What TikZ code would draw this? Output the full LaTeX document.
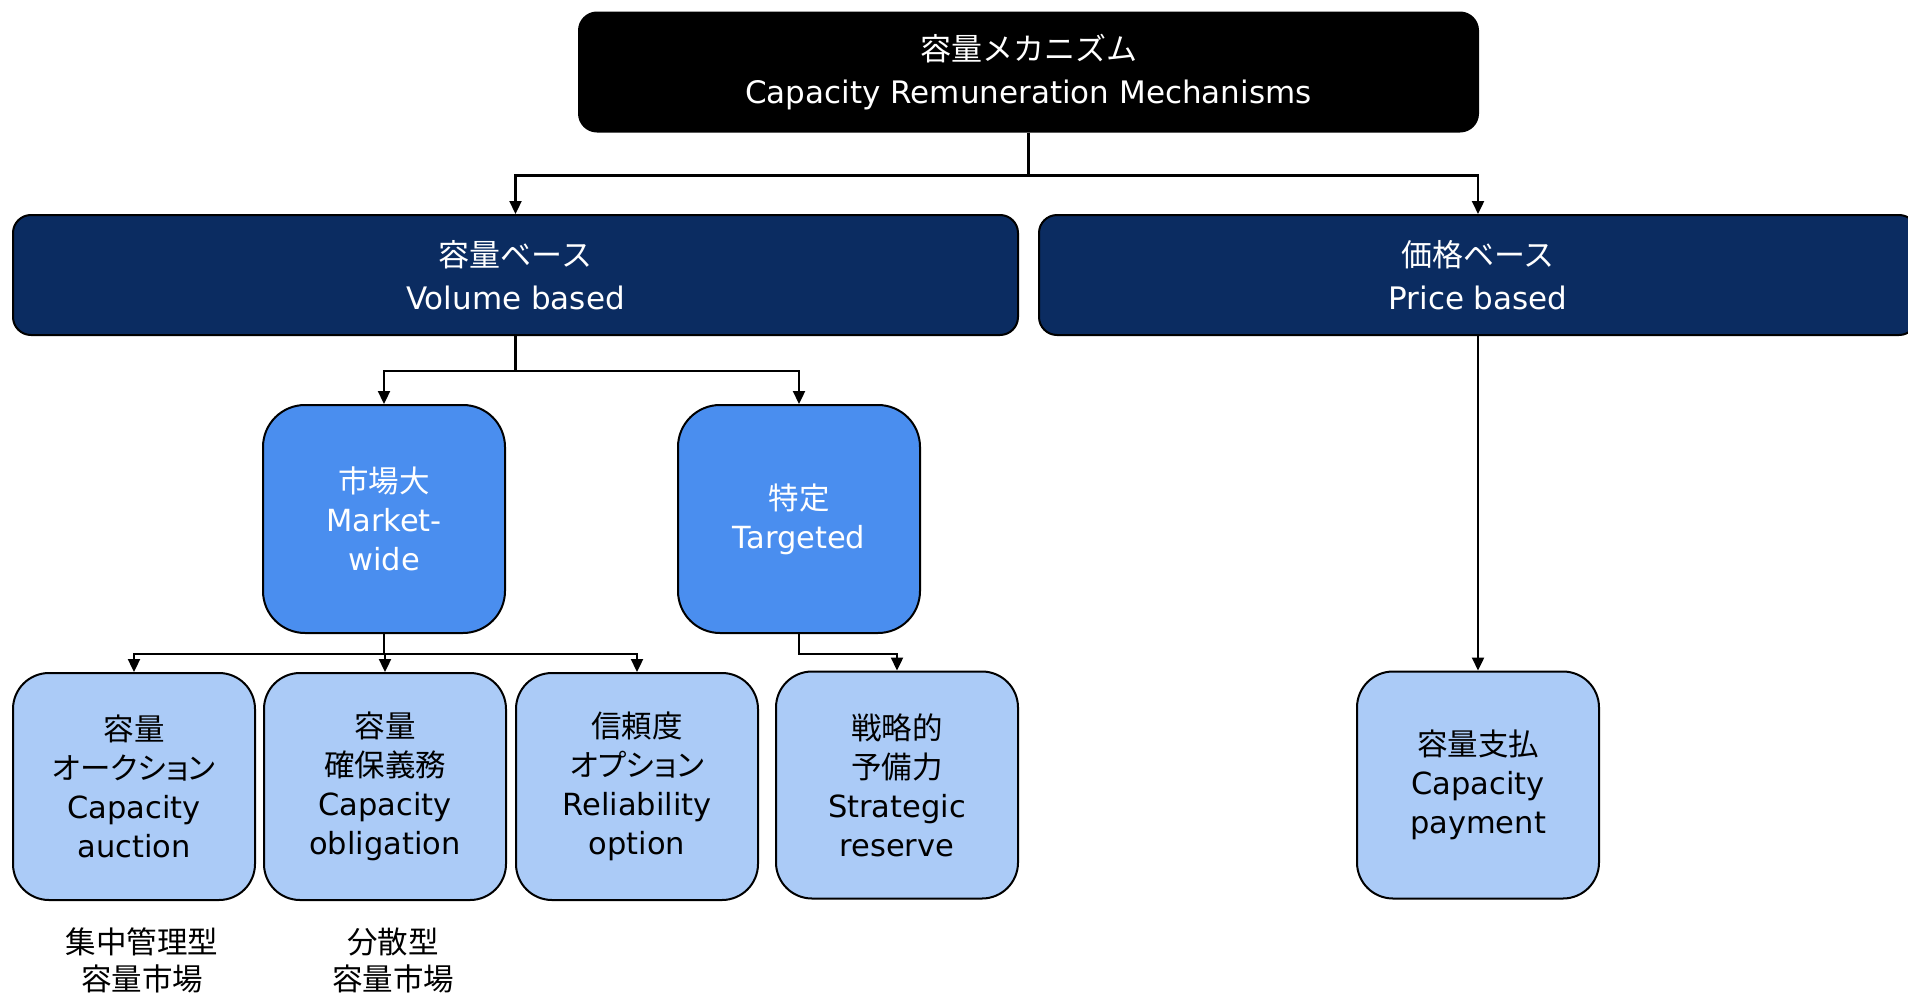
\documentclass[tikz,border=0pt]{standalone}
\usepackage{fontspec}
\setmainfont{DejaVu Sans}
\newfontfamily\jp{Noto Sans CJK JP}
\newfontfamily\jpk[RawFeature=+palt]{Noto Sans CJK JP}
\usetikzlibrary{arrows.meta}
\definecolor{navy}{RGB}{11,44,97}
\definecolor{midblue}{RGB}{74,142,239}
\definecolor{lightblue}{RGB}{171,203,247}
\tikzset{
  box/.style={draw=black, line width=2pt, align=center, inner sep=0pt,
    font=\fontsize{30.5}{39}\selectfont},
  topbox/.style={box, fill=black, text=white, rounded corners=18pt,
    minimum width=899pt, minimum height=119pt, font=\fontsize{31}{42.5}\selectfont},
  groupbox/.style={box, fill=navy, text=white, rounded corners=18pt,
    minimum height=120pt, font=\fontsize{31}{42.5}\selectfont},
  kindbox/.style={box, fill=midblue, text=white, rounded corners=42pt,
    minimum width=242pt, minimum height=228pt},
  leafbox/.style={box, fill=lightblue, text=black, rounded corners=36pt,
    minimum width=242pt, minimum height=227pt},
  note/.style={align=center, inner sep=0pt, font=\fontsize{30.5}{37}\selectfont},
  arr/.style={line width=2.3pt, -{Triangle[length=13pt,width=12pt]}},
}
\begin{document}
\begin{tikzpicture}[x=1pt,y=-1pt]
\useasboundingbox (0,0) rectangle (1908,993);
\begin{scope}
\clip (0,0) rectangle (1908,993);

% root
\node[topbox] (root) at (1028.5,72) {{\jp 容量メカニズム}\\Capacity Remuneration Mechanisms};

% volume / price
\node[groupbox, minimum width=1005pt] (vol) at (515.5,275) {{\jp 容量ベース}\\Volume based};
\node[groupbox, minimum width=878pt] (price) at (1478,275) {{\jp 価格ベース}\\Price based};

% market-wide / targeted
\node[kindbox] (mw) at (384,519) {{\jp 市場大}\\Market-\\wide};
\node[kindbox] (tg) at (799,519) {{\jp 特定}\\Targeted};

% leaves
\node[leafbox] (ca) at (134,786.5) {{\jp 容量}\\{\jpk オークション}\\Capacity\\auction};
\node[leafbox] (co) at (385,786.5) {{\jp 容量}\\{\jp 確保義務}\\Capacity\\obligation};
\node[leafbox] (ro) at (637,786.5) {{\jp 信頼度}\\{\jpk オプション}\\Reliability\\option};
\node[leafbox] (sr) at (897,785) {{\jp 戦略的}\\{\jp 予備力}\\Strategic\\reserve};
\node[leafbox] (cp) at (1478,785) {{\jp 容量支払}\\Capacity\\payment};

% market-type notes
\node[note] (central) at (142,960) {\jp 集中管理型\\\jp 容量市場};
\node[note] (decentral) at (393,960) {\jp 分散型\\\jp 容量市場};

% connectors
\draw[arr] (root.south) -- ++(0,43) -| (vol.north);
\draw[arr] (root.south) -- ++(0,43) -| (price.north);
\draw[arr] (vol.south) -- ++(0,35) -| (mw.north);
\draw[arr] (vol.south) -- ++(0,35) -| (tg.north);
\draw[arr] (mw.south) -- ++(0,20) -| (ca.north);
\draw[arr] (mw.south) -- ++(0,20) -| (co.north);
\draw[arr] (mw.south) -- ++(0,20) -| (ro.north);
\draw[arr] (tg.south) -- ++(0,20) -| (sr.north);
\draw[arr] (price.south) -- (cp.north);
\end{scope}
\end{tikzpicture}
\end{document}
